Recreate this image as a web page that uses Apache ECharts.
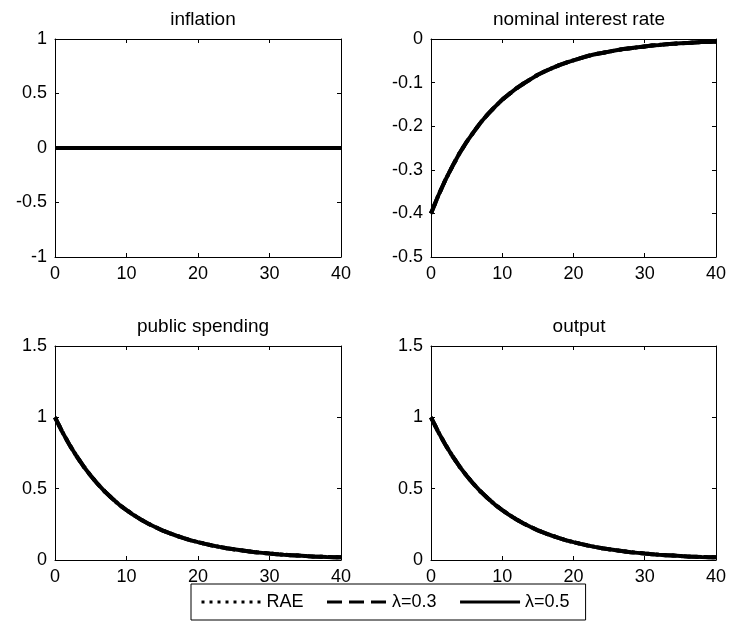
<!DOCTYPE html>
<html>
<head>
<meta charset="utf-8">
<script src="https://cdn.jsdelivr.net/npm/echarts@6/dist/echarts.min.js"></script>
<style>html,body{margin:0;padding:0;background:#fff}#c{width:729px;height:626px}</style>
</head>
<body>
<div id="c"></div>
<script>
// ---- data ----
const periods = Array.from({length: 41}, (_, i) => i);
const seriesNames = ['RAE', 'λ=0.3', 'λ=0.5'];
const panelTitles = ['inflation', 'nominal interest rate', 'public spending', 'output'];
const inflation = [0,0,0,0,0,0,0,0,0,0,0,0,0,0,0,0,0,0,0,0,0,0,0,0,0,0,0,0,0,0,0,0,0,0,0,0,0,0,0,0,0];
const interestRate = [-0.400,-0.360,-0.324,-0.292,-0.262,-0.236,-0.213,-0.191,-0.172,-0.155,-0.139,-0.126,-0.113,-0.102,-0.092,-0.082,-0.074,-0.067,-0.060,-0.054,-0.049,-0.044,-0.039,-0.035,-0.032,-0.029,-0.026,-0.023,-0.021,-0.019,-0.017,-0.015,-0.014,-0.012,-0.011,-0.010,-0.009,-0.008,-0.007,-0.007,-0.006];
const publicSpending = [1.000,0.900,0.810,0.729,0.656,0.591,0.531,0.478,0.431,0.387,0.350,0.315,0.284,0.256,0.231,0.208,0.188,0.170,0.153,0.138,0.125,0.113,0.102,0.092,0.083,0.075,0.068,0.061,0.055,0.050,0.045,0.041,0.037,0.034,0.031,0.028,0.025,0.023,0.021,0.020,0.019];
const output = [1.000,0.900,0.810,0.729,0.656,0.591,0.531,0.478,0.431,0.387,0.350,0.315,0.284,0.256,0.231,0.208,0.188,0.170,0.153,0.138,0.125,0.113,0.102,0.092,0.083,0.075,0.068,0.061,0.055,0.050,0.045,0.041,0.037,0.034,0.031,0.028,0.025,0.023,0.021,0.020,0.019];
const panelData = [inflation, interestRate, publicSpending, output];
const yMins = [-1, -0.5, 0, 0];
const yMaxs = [1, 0, 1.5, 1.5];
const yIntervals = [0.5, 0.1, 0.5, 0.5];
const xTicks = [0, 40, 10];

// ---- layout ----
const FONT = 'Liberation Sans, Arial, sans-serif';
const FS = 18;
const grids = [
  {left: 55, top: 39, width: 286, height: 218},
  {left: 431, top: 39, width: 286, height: 218},
  {left: 55, top: 346, width: 286, height: 214},
  {left: 431, top: 346, width: 286, height: 214}
];
const lineTypes = [[3, 5], [15, 7], 'solid'];

const xAxis = [], yAxis = [], series = [], title = [];
grids.forEach((g, i) => {
  const tickStyle = {show: true, inside: true, length: 4, lineStyle: {color: '#000', width: 1}};
  const lineStyle = {show: true, onZero: false, lineStyle: {color: '#000', width: 1}};
  xAxis.push({type: 'value', gridIndex: i, min: xTicks[0], max: xTicks[1], interval: xTicks[2], position: 'bottom',
    axisLine: lineStyle, axisTick: tickStyle, splitLine: {show: false},
    axisLabel: {color: '#000', fontFamily: FONT, fontSize: FS, margin: 8}});
  xAxis.push({type: 'value', gridIndex: i, min: xTicks[0], max: xTicks[1], interval: xTicks[2], position: 'top',
    axisLine: lineStyle, axisTick: tickStyle, splitLine: {show: false}, axisLabel: {show: false}});
  yAxis.push({type: 'value', gridIndex: i, min: yMins[i], max: yMaxs[i], interval: yIntervals[i], position: 'left',
    axisLine: lineStyle, axisTick: tickStyle, splitLine: {show: false},
    axisLabel: {color: '#000', fontFamily: FONT, fontSize: FS, margin: 8}});
  yAxis.push({type: 'value', gridIndex: i, min: yMins[i], max: yMaxs[i], interval: yIntervals[i], position: 'right',
    axisLine: lineStyle, axisTick: tickStyle, splitLine: {show: false}, axisLabel: {show: false}});
  title.push({text: panelTitles[i], left: g.left + g.width / 2, top: g.top - 34, textAlign: 'center',
    textStyle: {color: '#000', fontFamily: FONT, fontSize: 19, fontWeight: 'normal'}});
  seriesNames.forEach((name, k) => {
    series.push({name: name, type: 'line', xAxisIndex: i * 2, yAxisIndex: i * 2, showSymbol: false, symbol: 'none',
      data: periods.map((t, j) => [t, panelData[i][j]]),
      itemStyle: {color: '#000'},
      lineStyle: {color: '#000', width: 4, type: lineTypes[k]}, z: 3 + k});
  });
});

const chart = echarts.init(document.getElementById('c'));
chart.setOption({
  animation: false,
  backgroundColor: '#fff',
  title: title,
  grid: grids,
  xAxis: xAxis,
  yAxis: yAxis,
  series: series,
  legend: {
    data: seriesNames, left: 191, top: 584, orient: 'horizontal',
    itemWidth: 60, itemHeight: 3, itemGap: 22,
    padding: [9, 16, 9, 9], borderColor: '#000', borderWidth: 1, backgroundColor: '#fff',
    lineStyle: {width: 3},
    itemStyle: {opacity: 0},
    textStyle: {color: '#000', fontFamily: FONT, fontSize: FS},
    z: 10
  }
});
</script>
</body>
</html>
